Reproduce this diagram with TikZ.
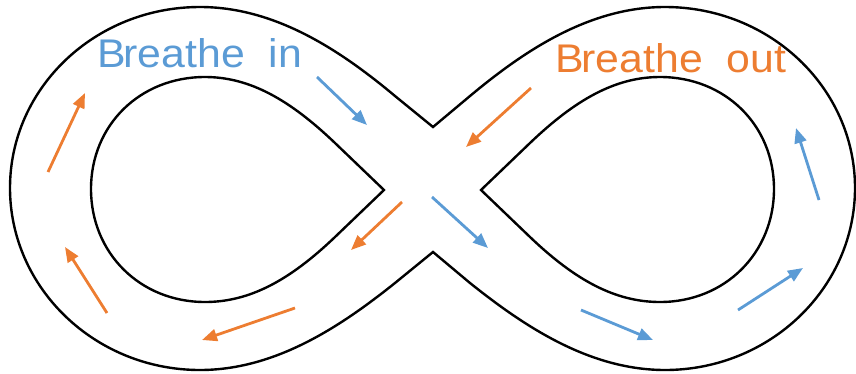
\documentclass[tikz,border=0pt]{standalone}
\usepackage{fontspec}
\setmainfont{Liberation Sans}
\usetikzlibrary{arrows.meta}
\definecolor{inblue}{RGB}{91,155,213}
\definecolor{outorange}{RGB}{237,125,49}
\newcommand{\breatharrow}[3]{
\draw[#1, line width=2.8pt, -{Triangle[length=15pt,width=12pt]}] (#2) -- (#3);
}

\begin{document}
\begin{tikzpicture}[x=1pt,y=-1pt]
    \useasboundingbox (0,0) rectangle (856,373);
    % outer track
    \draw[line width=2.4pt] (433,127) -- (395,96) .. controls (340,50) and (275,7) .. (200,7)
        .. controls (95,7) and (10,88) .. (10,188)
        .. controls (10,288) and (95,370) .. (200,370)
        .. controls (275,370) and (340,327) .. (395,283) -- (433,252)
        -- (470,283) .. controls (525,327) and (590,370) .. (665,370)
        .. controls (770,370) and (855,288) .. (855,188)
        .. controls (855,88) and (770,7) .. (665,7)
        .. controls (590,7) and (525,50) .. (470,96) -- cycle;
    % inner loops
    \draw[line width=2.4pt] (384,190) -- (335,143) .. controls (290,100) and (250,77) .. (205,77)
        .. controls (140,77) and (91,125) .. (91,189)
        .. controls (91,253) and (140,302) .. (205,302)
        .. controls (250,302) and (290,280) .. (335,237) -- cycle;
    \draw[line width=2.4pt] (481,190) -- (530,143) .. controls (575,100) and (615,77) .. (660,77)
        .. controls (725,77) and (774,125) .. (774,189)
        .. controls (774,253) and (725,302) .. (660,302)
        .. controls (615,302) and (575,280) .. (530,237) -- cycle;
    % labels
    \node[inblue, font=\fontsize{40}{48}\selectfont, anchor=base west, inner sep=0pt, xscale=1.07] (inlabel) at (97,67) {B\kern-2ptreathe\ \ in};
    \node[outorange, font=\fontsize{40}{48}\selectfont, anchor=base west, inner sep=0pt, xscale=1.07] (outlabel) at (555,72) {B\kern-2ptreathe\ \ out};
    % arrows
    \foreach \xa/\ya/\xb/\yb in {317/77/367/125, 432/197/488/248, 581/310/653/340, 738/310/803/268, 819/200/796/128}
    {
        \breatharrow{inblue}{\xa,\ya}{\xb,\yb}
    }
    \foreach \xa/\ya/\xb/\yb in {531/88/466/147, 402/202/351/250, 295/308/202/340, 107/313/65/247, 48/172/85/93}
    {
        \breatharrow{outorange}{\xa,\ya}{\xb,\yb}
    }
\end{tikzpicture}
\end{document}
